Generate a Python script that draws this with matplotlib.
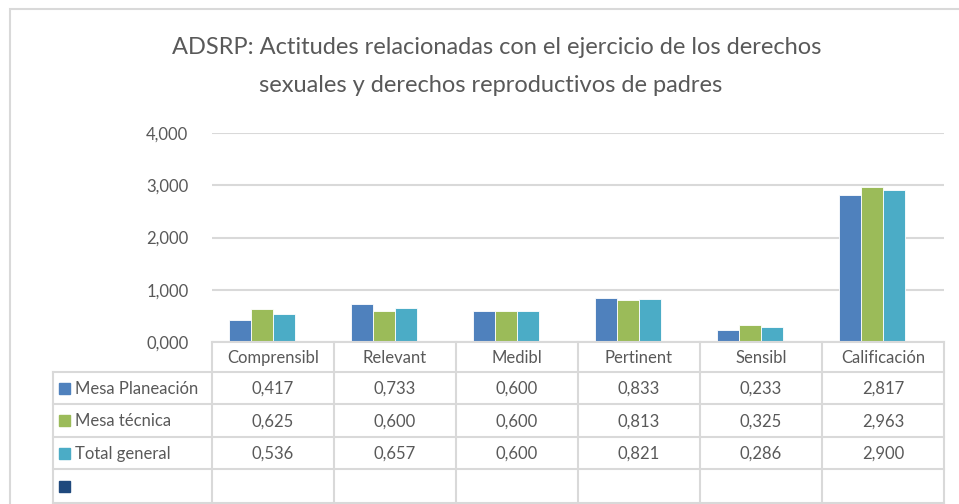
import numpy as np
import matplotlib
matplotlib.use("Agg")
import matplotlib.pyplot as plt
from matplotlib import transforms
from matplotlib.patches import Rectangle

# data
categories = ["Comprensibl", "Relevant", "Medibl", "Pertinent", "Sensibl", "Calificación"]
series_names = ["Mesa Planeación", "Mesa técnica", "Total general", ""]
mesa_planeacion = [0.417, 0.733, 0.600, 0.833, 0.233, 2.817]
mesa_tecnica = [0.625, 0.600, 0.600, 0.813, 0.325, 2.963]
total_general = [0.536, 0.657, 0.600, 0.821, 0.286, 2.900]
vacia = [np.nan] * 6   # empty 4th series, still takes a bar slot
yticks = [0, 1, 2, 3, 4]

colors = ["#4F81BD", "#9BBB59", "#4BACC6", "#1F497D"]
grid_c = "#D9D9D9"
txt_c = "#595959"
plt.rcParams['font.family'] = ['Lato', 'DejaVu Sans']

W, H = 959, 504
fig = plt.figure(figsize=(W / 100, H / 100), dpi=100)

def fy(y):  # pixel row (from top) -> figure fraction
    return 1 - y / H

# plot area
x0, x1, ytop, ybot = 212, 944, 133, 342
ax = fig.add_axes([x0 / W, fy(ybot), (x1 - x0) / W, (ybot - ytop) / H])
ax.set_xlim(-0.5, len(categories) - 0.5)
ax.set_ylim(0, 4)

all_series = [mesa_planeacion, mesa_tecnica, total_general, vacia]
x = np.arange(len(categories))
w = 0.18
for k, vals in enumerate(all_series):
    ax.bar(x + (k - 1.5) * w, vals, width=w, color=colors[k],
           edgecolor="white", linewidth=0.6, zorder=3)

ax.set_yticks(yticks)
ax.set_yticklabels([("%.3f" % v).replace(".", ",") for v in yticks],
                   fontsize=12, color=txt_c)
ax.tick_params(axis="y", length=0, pad=17)
ax.set_xticks([])
ax.yaxis.grid(True, color=grid_c, linewidth=1.5, zorder=0)
for s in ["top", "right", "left"]:
    ax.spines[s].set_visible(False)
ax.spines["bottom"].set_visible(False)

# chart border
fig.add_artist(Rectangle((9.5 / W, fy(520)), 1.2, fy(9.5) - fy(520),
                         transform=fig.transFigure, fill=False,
                         edgecolor=grid_c, linewidth=1.5))

# title
fig.text(497 / W, fy(47), "ADSRP: Actitudes relacionadas con el ejercicio de los derechos",
         ha="center", va="center", fontsize=17, color=txt_c)
fig.text(491 / W, fy(85), "sexuales y derechos reproductivos de padres",
         ha="center", va="center", fontsize=17, color=txt_c)

# data table under the axis
bt = transforms.blended_transform_factory(ax.transData, fig.transFigure)
ft = fig.transFigure
row_edges = [342, 372, 404, 437, 469, 503]
lab_left = 53
lw = 1.5

def hline(y, xa, xb, trans):
    fig.add_artist(plt.Line2D([xa, xb], [fy(y), fy(y)], transform=trans,
                              color=grid_c, linewidth=lw))

# horizontal lines
hline(row_edges[0], -0.5, len(categories) - 0.5, bt)
for y in row_edges[1:]:
    hline(y, lab_left / W, x1 / W, ft)
# vertical lines
for i in range(len(categories) + 1):
    fig.add_artist(plt.Line2D([i - 0.5, i - 0.5], [fy(row_edges[0]), fy(row_edges[-1])],
                              transform=bt, color=grid_c, linewidth=lw))
fig.add_artist(plt.Line2D([lab_left / W] * 2, [fy(row_edges[1]), fy(row_edges[-1])],
                          transform=ft, color=grid_c, linewidth=lw))

# header
for i, c in enumerate(categories):
    fig.text(i, fy((row_edges[0] + row_edges[1]) / 2 + 1), c, transform=bt,
             ha="center", va="center", fontsize=12, color=txt_c)

# rows
for r, (name, vals) in enumerate(zip(series_names, all_series)):
    yc = (row_edges[r + 1] + row_edges[r + 2]) / 2
    fig.add_artist(Rectangle((59 / W, fy(yc + 5.5)), 11 / W, 11 / H,
                             transform=ft, color=colors[r]))
    fig.text(75 / W, fy(yc + 1), name, ha="left", va="center",
             fontsize=12, color=txt_c)
    for i, v in enumerate(vals):
        if np.isnan(v):
            continue
        fig.text(i, fy(yc + 1), ("%.3f" % v).replace(".", ","), transform=bt,
                 ha="center", va="center", fontsize=12, color=txt_c)

fig.savefig("out.png", dpi=100)
